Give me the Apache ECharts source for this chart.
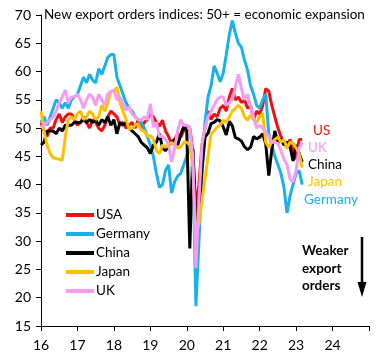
<!DOCTYPE html>
<html><head><meta charset="utf-8">
<script src="https://cdn.jsdelivr.net/npm/echarts@6/dist/echarts.min.js"></script>
<style>html,body{margin:0;padding:0;background:#fff}#c{width:384px;height:360px}</style>
</head><body><div id="c"></div>
<script>
// Monthly data, Jan 2016 .. Mar 2023 (x = year 16 + month/12)
const firstYear = 16;
const yearTicks = [16, 17, 18, 19, 20, 21, 22, 23, 24];
const seriesNames = ['USA', 'Germany', 'China', 'Japan', 'UK'];
const usa = [
  51, 49.5, 48.5, 50, 50, 51.5, 52.5, 51, 52, 52.5, 52.5, 51.5,
  50.5, 51, 52, 51, 50, 51.5, 51, 50, 49.5, 50.5, 52, 53,
  52.5, 52, 50.5, 51, 50, 50.5, 51, 50, 51.5, 50, 51, 51.5,
  52.6, 52, 51, 50.3, 51.4, 49.5, 48.5, 47.3, 48, 49, 48.4, 49.5,
  50.5, 50, 46, 35.5, 40, 47, 50, 53, 51.5, 52.5, 52, 53.5,
  54, 53, 55.5, 57, 55, 55.5, 54.5, 55, 53.5, 54, 51.5, 53,
  52.5, 54, 57, 56.5, 54, 52, 50, 48.5, 47.5, 46.5, 48, 46,
  44.5, 48, 48
];
const germany = [
  51, 52, 50.5, 52, 53.5, 55, 54.5, 53.5, 54.5, 53.5, 55, 55.5,
  56, 57.5, 59, 58, 59.5, 58.5, 58, 60.5, 59.5, 61, 62.5, 63,
  63, 59, 57.5, 56, 54.5, 53.5, 53, 52, 51.5, 51, 50, 48.5,
  47, 45, 42, 39.5, 40, 42.5, 43.5, 38.5, 40.5, 41.5, 42, 43.5,
  45, 47, 44, 18.5, 30, 42, 51, 55.5, 57.5, 61, 59.7, 58.2,
  59.7, 63, 66.5, 69, 66.8, 65, 64.3, 62, 60.3, 57.5, 56, 54,
  53.5, 55, 56, 49, 47, 45, 43.5, 42, 39.5, 35, 38, 40,
  42, 42.5, 40
];
const china = [
  47, 47.5, 49.5, 49.5, 49.5, 49, 50, 49.5, 50.5, 50.5, 50.5, 51,
  51, 51, 51.5, 51, 51.5, 51, 51.5, 50.5, 51.5, 51, 52, 50.5,
  51.5, 49, 51, 50.5, 51, 50, 49.5, 49, 48.5, 47.5, 47, 46.5,
  45.5, 47, 47.5, 49, 46.5, 46, 46.9, 47.5, 48, 47, 48.8, 50.3,
  49.5, 28.7, 46.4, 33.5, 35.3, 42.6, 48.4, 49.1, 50.8, 51, 51.5, 51.3,
  50.2, 48.8, 51.2, 50.4, 48.3, 48.1, 47.7, 46.7, 46.2, 46.6, 48.5, 48.1,
  48.4, 49, 47.2, 41.6, 46.2, 49.5, 47.4, 48.1, 47, 47.6, 46.7, 44.2,
  47, 45.5, 44
];
const japan = [
  53, 49.5, 47, 45.5, 44.8, 44.6, 44.5, 44.3, 48.5, 51.5, 52, 51.5,
  52.5, 53, 51.5, 52, 53, 52.5, 51.5, 52, 54, 53, 54.5, 56.5,
  56.5, 57.2, 54.5, 53, 51.5, 49.8, 50, 50.5, 50.8, 49.6, 49.5, 48.5,
  48.7, 48, 46, 45.5, 47, 46.6, 47, 47.5, 47, 46.5, 46.6, 47.5,
  47.5, 47, 43, 31, 33, 37, 41, 45, 49, 49.5, 50.2, 50.5,
  51.4, 51, 52, 53, 53.5, 54, 53.5, 52, 51.4, 52.3, 51.5, 51,
  52, 52.6, 47.5, 46.6, 47.5, 48, 48.4, 47.5, 48, 46.5, 47.5, 47.3,
  46.5, 45.5, 43
];
const uk = [
  50, 50.5, 51, 51.5, 52, 53, 54.5, 55.5, 56.7, 54.5, 55.5, 55.5,
  56, 55, 53.5, 55, 56, 55.5, 54, 56, 55, 54, 56, 56.5,
  56.7, 55, 55.5, 54.3, 53.2, 53.7, 52.5, 52, 51.5, 51.4, 52, 51.5,
  54.3, 50.2, 51, 48.5, 48.5, 48, 47, 44, 46.5, 49.5, 51.5, 50.5,
  50.5, 50, 45, 25.2, 37, 47, 50, 52, 53, 54, 55, 55.5,
  55.5, 54, 54.5, 55, 57.3, 59.5, 57, 55, 56, 53.7, 52, 50,
  50.5, 50, 49.3, 48.5, 47.5, 47.5, 47.3, 46, 44.5, 43.5, 41, 40.5,
  42.5, 46.5, 47.5
];
const colors = ['#EE1111', '#1AB0E8', '#000000', '#FFC000', '#F59BF2'];
const values = [usa, germany, china, japan, uk];

const toPairs = arr => arr.map((v, i) => [firstYear + i / 12, v]);
const FONT = 'Lato, "Liberation Sans", sans-serif';

const chart = echarts.init(document.getElementById('c'), null, {renderer: 'canvas'});
chart.setOption({
  animation: false,
  backgroundColor: '#fff',
  title: {
    text: 'New export orders indices: 50+ = economic expansion',
    left: 44, top: 8, padding: 0,
    textStyle: {fontFamily: FONT, fontSize: 13.5, fontWeight: 'normal', color: '#000'}
  },
  grid: {left: 41, right: 15, top: 15, bottom: 34, containLabel: false},
  legend: {
    orient: 'vertical', left: 66, top: 208, itemWidth: 28, itemHeight: 4, itemGap: 5,
    icon: 'rect', padding: 0,
    textStyle: {fontFamily: FONT, fontSize: 13.5, color: '#000', padding: [0, 0, 0, -3]},
    data: seriesNames
  },
  xAxis: {
    type: 'value', min: 16, max: 25, interval: 1,
    axisLine: {show: true, lineStyle: {color: '#000', width: 1}},
    axisTick: {show: true, inside: false, length: 5, lineStyle: {color: '#000'}},
    splitLine: {show: false},
    axisLabel: {
      margin: 12, color: '#000', fontFamily: FONT, fontSize: 14,
      formatter: v => (yearTicks.indexOf(v) >= 0 ? String(v) : '')
    }
  },
  yAxis: {
    type: 'value', min: 15, max: 70, interval: 5,
    axisLine: {show: true, lineStyle: {color: '#000', width: 1}},
    axisTick: {show: true, inside: false, length: 5, lineStyle: {color: '#000'}},
    splitLine: {show: false},
    axisLabel: {margin: 10, color: '#000', fontFamily: FONT, fontSize: 14}
  },
  series: seriesNames.map((name, k) => ({
    name: name, type: 'line', data: toPairs(values[k]),
    showSymbol: false, symbol: 'none', smooth: false,
    color: colors[k],
    lineStyle: {width: 3, color: colors[k]},
    z: 2 + k
  })),
  graphic: [
    {type: 'text', left: 313, top: 124, style: {text: 'US', fill: '#EE1111', font: '13.5px ' + FONT}},
    {type: 'text', left: 308, top: 141, style: {text: 'UK', fill: '#F59BF2', font: '13.5px ' + FONT}},
    {type: 'text', left: 308, top: 158, style: {text: 'China', fill: '#000', font: '13.5px ' + FONT}},
    {type: 'text', left: 308, top: 175, style: {text: 'Japan', fill: '#FFC000', font: '13.5px ' + FONT}},
    {type: 'text', left: 304, top: 193, style: {text: 'Germany', fill: '#1AB0E8', font: '13.5px ' + FONT}},
    {type: 'text', left: 302, top: 242, style: {text: 'Weaker\nexport\norders', fill: '#000', font: 'bold 13.5px ' + FONT, lineHeight: 17.5}},
    {type: 'line', shape: {x1: 362, y1: 237, x2: 362, y2: 286}, style: {stroke: '#000', lineWidth: 2.5}},
    {type: 'polygon', shape: {points: [[357.5, 282], [366.5, 282], [362, 297]]}, style: {fill: '#000'}}
  ]
});
</script>
</body></html>
